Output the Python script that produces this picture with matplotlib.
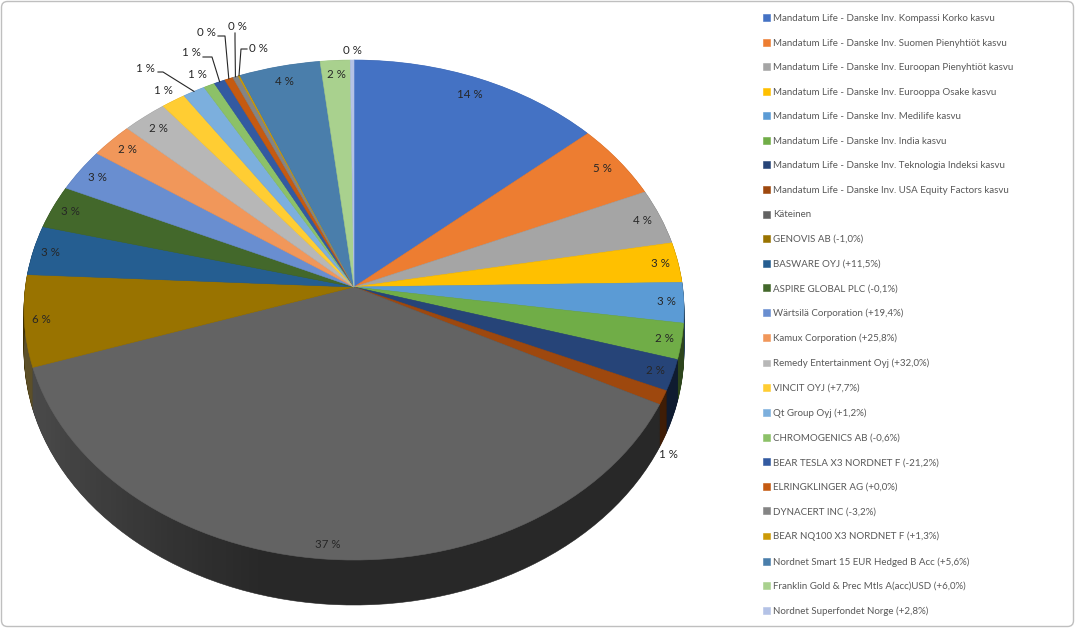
import matplotlib
matplotlib.use("Agg")
import matplotlib.pyplot as plt
import matplotlib.colors as mcolors
from matplotlib.patches import FancyBboxPatch
from matplotlib.path import Path
from matplotlib.transforms import IdentityTransform, Transform
import numpy as np

# ---------------- data ----------------
labels = [
    "Mandatum Life - Danske Inv. Kompassi Korko kasvu",
    "Mandatum Life - Danske Inv. Suomen Pienyhtiöt kasvu",
    "Mandatum Life - Danske Inv. Euroopan Pienyhtiöt kasvu",
    "Mandatum Life - Danske Inv. Eurooppa Osake kasvu",
    "Mandatum Life - Danske Inv. Medilife kasvu",
    "Mandatum Life - Danske Inv. India kasvu",
    "Mandatum Life - Danske Inv. Teknologia Indeksi kasvu",
    "Mandatum Life - Danske Inv. USA Equity Factors kasvu",
    "Käteinen",
    "GENOVIS AB (-1,0%)",
    "BASWARE OYJ (+11,5%)",
    "ASPIRE GLOBAL PLC (-0,1%)",
    "Wärtsilä Corporation (+19,4%)",
    "Kamux Corporation (+25,8%)",
    "Remedy Entertainment Oyj (+32,0%)",
    "VINCIT OYJ (+7,7%)",
    "Qt Group Oyj (+1,2%)",
    "CHROMOGENICS AB (-0,6%)",
    "BEAR TESLA X3 NORDNET F (-21,2%)",
    "ELRINGKLINGER AG (+0,0%)",
    "DYNACERT INC (-3,2%)",
    "BEAR NQ100 X3 NORDNET F (+1,3%)",
    "Nordnet Smart 15 EUR Hedged B Acc (+5,6%)",
    "Franklin Gold & Prec Mtls A(acc)USD (+6,0%)",
    "Nordnet Superfondet Norge (+2,8%)",
]
values = [13.6, 4.9, 3.6, 2.6, 2.6, 2.3, 2.0, 0.9, 37.4, 5.9,
          3.2, 2.8, 2.8, 2.3, 2.4, 1.3, 1.2, 0.6, 0.6, 0.45,
          0.3, 0.1, 4.35, 1.6, 0.2]
colors = ["#4472C4", "#ED7D31", "#A5A5A5", "#FFC000", "#5B9BD5", "#70AD47",
          "#264478", "#9E480E", "#636363", "#997300", "#255E91", "#43682B",
          "#698ED0", "#F1975A", "#B7B7B7", "#FFCD33", "#7CAFDD", "#8CC168",
          "#335AA1", "#C55A11", "#848484", "#CC9A06", "#4A7EAB", "#A9D18E",
          "#B4C2E6"]

# ---------------- layout (pixels) ----------------
W, H = 1075, 628
CX, Y0 = 354, 287          # projected centre of the pie
A, B, P = 328.6, 247.9, 0.092   # half-width, half-height, perspective
DEPTH = 45 * (1 - P)
TXT = "#262626"
LBL_FS = 8.3


class Persp(Transform):
    """Tilted-disc perspective projection (unit disc -> display pixels)."""
    input_dims = output_dims = 2
    is_separable = False
    has_inverse = False

    def __init__(self, drop=0.0):
        super().__init__()
        self.drop = drop

    def transform_non_affine(self, xy):
        xy = np.asarray(xy, dtype=float)
        u, v = xy[:, 0], xy[:, 1]
        den = 1 + P * v
        sx = CX + A * u / den
        sy = Y0 - B * v / den + self.drop / den
        return np.column_stack([sx, H - sy])


def darken(c, f):
    r, g, b = mcolors.to_rgb(c)
    return (r * f, g * f, b * f)


fig = plt.figure(figsize=(W / 100, H / 100), dpi=100)
fig.patch.set_facecolor("white")
ax = fig.add_axes([0, 0, 1, 1])

# side of the 3D pie: stacked darkened pies, lowered in perspective
side_colors = [darken(c, 0.40) for c in colors]
for drop in np.linspace(DEPTH, 0.5, 48):
    ws, _ = ax.pie(values, colors=side_colors, startangle=90,
                   counterclock=False, radius=1, wedgeprops=dict(linewidth=0.4))
    tr = Persp(drop)
    for w in ws:
        w.set_edgecolor(w.get_facecolor())
        w.set_transform(tr)
        w.set_zorder(1)

# soft lighting on the left part of the side
gx = np.linspace(0, 1, 300)
grad = np.ones((1, gx.size, 4))
grad[0, :, 3] = 0.17 * np.clip(1 - gx / 0.85, 0, 1) ** 1.3
im = ax.imshow(grad, extent=(20, 330, 0, H), transform=IdentityTransform(),
               interpolation="bilinear", zorder=1.5, aspect="auto")
im.set_clip_path(Path.circle((0, 0), 1.0), Persp(DEPTH))

# top surface
wedges, _ = ax.pie(values, colors=colors, startangle=90, counterclock=False,
                   radius=1, wedgeprops=dict(linewidth=0.4))
top = Persp(0.0)
for w in wedges:
    w.set_edgecolor(w.get_facecolor())
    w.set_transform(top)
    w.set_zorder(2)
ax.set_aspect("auto")
ax.set_xlim(0, 1)
ax.set_ylim(0, 1)
ax.axis("off")

# ---------------- data labels ----------------
total = sum(values)
pct_text = [f"{round(v / total * 100)} %" for v in values]

# small slices labelled outside: index -> (label centre px, leader elbow px)
outside = {
    7: ((668, 455), None),
    15: ((163, 91), None),
    16: ((145, 68), [(158, 72), (163, 72)]),
    17: ((197, 74), None),
    18: ((191, 53), [(203, 57), (212, 57)]),
    19: ((206, 33), [(218, 36), (225, 36)]),
    20: ((237, 27), [(235, 33), (235, 40)]),
    21: ((258, 49), [(247, 49), (241, 49)]),
    24: ((352, 50), None),
}

apex = top.transform(np.array([[0.0, 0.0]]))[0]
for i, w in enumerate(wedges):
    mid = np.deg2rad((w.theta1 + w.theta2) / 2)
    edge = top.transform(np.array([[np.cos(mid), np.sin(mid)]]))[0]
    if i in outside:
        (lx, ly), lead = outside[i]
        ax.text(lx, H - ly, pct_text[i], ha="center", va="center",
                fontsize=LBL_FS, color=TXT, family="Lato",
                transform=IdentityTransform(), zorder=3)
        if lead:
            pts = [(x, H - y) for x, y in lead] + [tuple(edge)]
            xs, ys = zip(*pts)
            ax.plot(xs, ys, color="#262626", lw=0.8,
                    transform=IdentityTransform(), zorder=3)
    else:
        dvec = apex - edge
        dvec = dvec / np.hypot(*dvec)
        hx = len(pct_text[i]) * 2.9
        hy = 5.5
        off = hx * abs(dvec[0]) + hy * abs(dvec[1]) + 8
        pos = edge + dvec * off
        ax.text(pos[0], pos[1], pct_text[i], ha="center", va="center",
                fontsize=LBL_FS, color=TXT, family="Lato",
                transform=IdentityTransform(), zorder=3)

# ---------------- legend ----------------
leg = fig.legend(wedges, labels, loc="upper left",
                 bbox_to_anchor=(763 / W, 1 - 14 / H), frameon=False,
                 prop=dict(family="Lato", size=7), handlelength=0.72,
                 handleheight=0.72, handletextpad=0.35,
                 labelspacing=1.6, borderaxespad=0, borderpad=0)
for t in leg.get_texts():
    t.set_color("#595959")

# chart border
border = FancyBboxPatch((1.5, 1.5), W - 3, H - 3,
                        boxstyle="round,pad=0,rounding_size=6",
                        transform=IdentityTransform(), fill=False,
                        edgecolor="#BFBFBF", lw=1.0)
fig.patches.append(border)

fig.savefig("out.png", dpi=100)
